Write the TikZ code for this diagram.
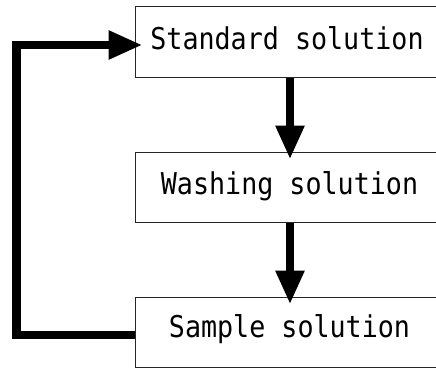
\documentclass[tikz,border=0pt]{standalone}
\usepackage{fontspec}
\newfontfamily\labelfont[FakeStretch=0.89]{DejaVu Sans Mono}
\usetikzlibrary{arrows.meta}
\begin{document}
\begin{tikzpicture}[x=1pt,y=-1pt,
  stage/.style={draw=black!85, line width=1pt, minimum width=310pt,
    minimum height=70pt, inner sep=0pt},
  caption/.style={font=\labelfont\fontsize{30}{30}\selectfont,
    anchor=base, inner sep=0pt},
  flow/.style={line width=8.5pt, line join=miter,
    -{Triangle[length=34pt,width=27pt]}, shorten >=-8pt}]
\useasboundingbox (0,0) rectangle (436,369);
\clip (0,0) rectangle (436,369);

% the three stages (their right sides run past the frame)
\node[stage] (std)  at (290,42)  {};
\node[stage] (wash) at (290,187) {};
\node[stage] (sam)  at (290,332) {};

\node[caption] (stdtext)  at (287,50)  {Standard solution};
\node[caption] (washtext) at (289.5,194) {Washing solution};
\node[caption] (samtext)  at (289.5,337) {Sample solution};

% downward flow
\draw[flow] (std.south) -- (wash.north);
\draw[flow] (wash.south) -- (sam.north);

% return loop from the sample back to the standard
\draw[flow] ([yshift=-3pt]sam.west) -- ++(-118,0) |- ([yshift=-3pt]std.west);
\end{tikzpicture}
\end{document}
